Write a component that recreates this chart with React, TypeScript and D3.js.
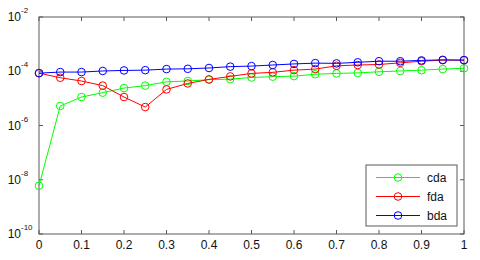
import React from "react";
import * as d3 from "d3";

const xs = [0, 0.05, 0.1, 0.15, 0.2, 0.25, 0.3, 0.35, 0.4, 0.45, 0.5, 0.55, 0.6, 0.65, 0.7, 0.75, 0.8, 0.85, 0.9, 0.95, 1];
const cdaLog = [-8.22, -5.28, -4.95, -4.79, -4.62, -4.53, -4.39, -4.36, -4.31, -4.29, -4.23, -4.2, -4.18, -4.11, -4.08, -4.06, -4.02, -3.99, -3.96, -3.92, -3.89];
const fdaLog = [-4.07, -4.24, -4.36, -4.53, -4.95, -5.32, -4.67, -4.45, -4.3, -4.19, -4.08, -4.04, -3.96, -3.92, -3.8, -3.77, -3.75, -3.69, -3.63, -3.59, -3.59];
const bdaLog = [-4.07, -4.03, -4.03, -3.99, -3.97, -3.96, -3.92, -3.91, -3.88, -3.83, -3.81, -3.77, -3.73, -3.7, -3.71, -3.67, -3.63, -3.63, -3.6, -3.58, -3.59];
const xTicks = [0, 0.1, 0.2, 0.3, 0.4, 0.5, 0.6, 0.7, 0.8, 0.9, 1];
const yExps = [-2, -4, -6, -8, -10];
const seriesNames = ["cda", "fda", "bda"];
const seriesColors = ["#00ff00", "#ff0000", "#0000ff"];

export default function App() {
  const W = 480, H = 260;
  const L = 39, R = 464, T = 17, B = 234;
  const x = d3.scaleLinear().domain([0, 1]).range([L, R]);
  const y = d3.scaleLog().domain([1e-10, 1e-2]).range([B, T]);
  const data = [cdaLog, fdaLog, bdaLog].map((arr) => arr.map((v, i) => [xs[i], Math.pow(10, v)] as [number, number]));
  const line = d3.line<[number, number]>().x((d) => x(d[0])).y((d) => y(d[1]));
  const axisColor = "#5a5a5a";
  const font = "Liberation Sans, Arial, sans-serif";
  const legX = 366, legY = 165, legW = 91, legH = 61;
  return (
    <svg width={W} height={H} style={{ position: "absolute", left: 0, top: 0 }} fontFamily={font}>
      <rect x={0} y={0} width={W} height={H} fill="#fff" />
      <rect x={L} y={T} width={R - L} height={B - T} fill="#fff" stroke={axisColor} strokeWidth={1} />
      {xTicks.map((t) => (
        <g key={"x" + t}>
          <line x1={x(t)} x2={x(t)} y1={B} y2={B - 4} stroke={axisColor} />
          <line x1={x(t)} x2={x(t)} y1={T} y2={T + 4} stroke={axisColor} />
          <text x={x(t)} y={B + 15} textAnchor="middle" fontSize={12} fill="#111">{String(t)}</text>
        </g>
      ))}
      {yExps.map((e) => (
        <g key={"y" + e}>
          <line x1={L} x2={L + 4} y1={y(Math.pow(10, e))} y2={y(Math.pow(10, e))} stroke={axisColor} />
          <line x1={R} x2={R - 4} y1={y(Math.pow(10, e))} y2={y(Math.pow(10, e))} stroke={axisColor} />
          <text x={21} y={y(Math.pow(10, e)) + 4} textAnchor="end" fontSize={12} fill="#111">10</text>
          <text x={21} y={y(Math.pow(10, e)) - 4} textAnchor="start" fontSize={8} fill="#111">{String(e)}</text>
        </g>
      ))}
      {data.map((d, si) => (
        <g key={"s" + si}>
          <path d={line(d) || ""} fill="none" stroke={seriesColors[si]} strokeWidth={1} />
          {d.map((p, i) => (
            <circle key={i} cx={x(p[0])} cy={y(p[1])} r={3.8} fill="none" stroke={seriesColors[si]} strokeWidth={1} />
          ))}
        </g>
      ))}
      <rect x={legX} y={legY} width={legW} height={legH} fill="#fff" stroke={axisColor} />
      {seriesNames.map((n, i) => {
        const ly = legY + 12.5 + i * 19;
        return (
          <g key={n}>
            <line x1={legX + 10} x2={legX + 54} y1={ly} y2={ly} stroke={seriesColors[i]} />
            <circle cx={legX + 32} cy={ly} r={3.8} fill="none" stroke={seriesColors[i]} />
            <text x={legX + 61} y={ly + 4.5} fontSize={12} fill="#111">{n}</text>
          </g>
        );
      })}
    </svg>
  );
}
